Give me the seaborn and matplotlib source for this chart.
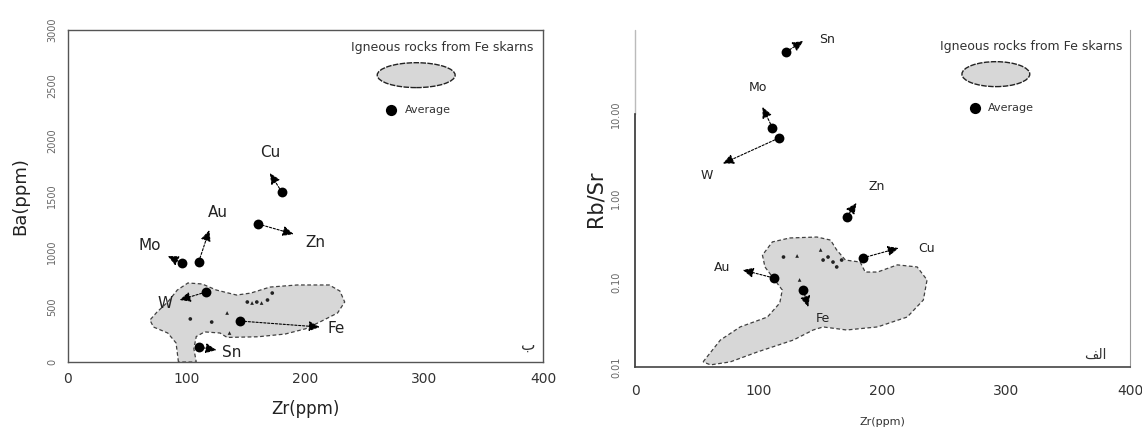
import numpy as np
import pandas as pd
import matplotlib
matplotlib.use("Agg")
import matplotlib.pyplot as plt
import seaborn as sns
from matplotlib.patches import Polygon, Ellipse

# ---------------- data ----------------
elements = ["Cu", "Zn", "Au", "Mo", "W", "Fe", "Sn"]

# Left panel: Zr (ppm) vs Ba (ppm)
ba_avg_zr = [180, 160, 110, 96, 116, 145, 110]
ba_avg_ba = [1536, 1247, 903, 894, 632, 370, 135]
ba_head_zr = [170, 190, 119, 84, 94, 212, 125]
ba_head_ba = [1707, 1156, 1192, 958, 560, 316, 108]
ba_lab_zr = [170, 208, 126, 69, 82, 226, 138]
ba_lab_ba = [1897, 1084, 1355, 1057, 533, 307, 90]

ba_samp_zr = [103, 121, 134, 151, 155, 159, 163, 168, 172, 136]
ba_samp_ba = [389, 361, 443, 542, 533, 542, 533, 560, 623, 262]
ba_samp_kind = ["o", "o", "^", "o", "^", "o", "^", "o", "o", "^"]

ba_field_zr = [93, 91, 84, 72, 69, 75, 84, 92, 101, 113, 125, 142, 154, 170, 193,
               220, 229, 233, 227, 212, 200, 183, 160, 134, 128, 115, 108, 106, 108]
ba_field_ba = [0, 172, 262, 316, 379, 452, 542, 650, 714, 705, 650, 605, 623, 677, 696,
               696, 641, 542, 443, 361, 300, 253, 228, 222, 262, 272, 230, 120, 0]

# Right panel: Zr (ppm) vs Rb/Sr
rs_avg_zr = [184, 171, 112, 111, 116, 136, 122]
rs_avg_rs = [0.197, 0.60, 0.114, 6.9, 5.2, 0.082, 54.8]
rs_head_zr = [213, 179, 87, 103, 71, 140, 136]
rs_head_rs = [0.258, 0.885, 0.142, 12.2, 2.6, 0.0515, 74]
rs_lab_zr = [236, 195, 70, 99, 58, 152, 155]
rs_lab_rs = [0.258, 1.37, 0.150, 20.5, 1.9, 0.038, 78]

rs_samp_zr = [120, 131, 150, 152, 156, 160, 163, 167, 133]
rs_samp_rs = [0.202, 0.208, 0.245, 0.186, 0.202, 0.176, 0.154, 0.186, 0.108]
rs_samp_kind = ["o", "^", "^", "o", "o", "o", "o", "o", "^"]

rs_field_zr = [55, 69, 85, 107, 117, 119, 105, 103, 111, 125, 147, 158, 163, 170, 182,
               186, 196, 212, 228, 236, 233, 220, 196, 171, 152, 144, 128, 99, 77, 61]
rs_field_rs = [0.0115, 0.0209, 0.0299, 0.0392, 0.0575, 0.082, 0.154, 0.213, 0.305, 0.340,
               0.349, 0.321, 0.245, 0.186, 0.176, 0.134, 0.134, 0.163, 0.154, 0.108,
               0.0624, 0.0392, 0.0299, 0.0275, 0.0299, 0.0275, 0.0209, 0.0151, 0.0115, 0.0106]

x_ticks = [0, 100, 200, 300, 400]
ba_ticks = [0, 500, 1000, 1500, 2000, 2500, 3000]
rs_ticks = [0.01, 0.1, 1, 10]
rs_tick_labels = ["0.01", "0.10", "1.00", "10.00"]

legend_field = "Igneous rocks from Fe skarns"
legend_avg = "Average"

# ---------------- style ----------------
sns.set_style("white")
plt.rcParams["font.family"] = ["DejaVu Sans"]

fig = plt.figure(figsize=(11.42, 4.28), dpi=100)
axL = fig.add_axes([68 / 1142, 1 - 362 / 428, 475 / 1142, 332 / 428])
axR = fig.add_axes([635 / 1142, 1 - 367 / 428, 495 / 1142, 337 / 428])

FIELD_FC = "#d7d7d7"
FIELD_EC = "#404040"
DASH = (0, (3, 2))


def draw_panel(ax, f_x, f_y, s_x, s_y, s_k, a_x, a_y, h_x, h_y, l_x, l_y, lab_size):
    ax.add_patch(Polygon(np.column_stack([f_x, f_y]), closed=True, facecolor=FIELD_FC,
                         edgecolor=FIELD_EC, linestyle=DASH, linewidth=0.9, zorder=1))
    samp = pd.DataFrame({"x": s_x, "y": s_y, "k": s_k})
    sns.scatterplot(data=samp, x="x", y="y", style="k", markers={"o": "o", "^": "^"},
                    color="#222222", s=7, linewidth=0, legend=False, ax=ax, zorder=3)
    for i, el in enumerate(elements):
        ax.annotate("", xy=(h_x[i], h_y[i]), xytext=(a_x[i], a_y[i]),
                    arrowprops=dict(arrowstyle="-|>,head_length=0.65,head_width=0.3",
                                    color="black", lw=0.8, linestyle=(0, (2, 1.5)),
                                    shrinkA=3, shrinkB=0), zorder=4)
        ax.text(l_x[i], l_y[i], el, ha="center", va="center", fontsize=lab_size,
                color="#222222", zorder=6)
    avg = pd.DataFrame({"x": a_x, "y": a_y})
    sns.scatterplot(data=avg, x="x", y="y", color="black", s=50, linewidth=0,
                    legend=False, ax=ax, zorder=5)


def draw_legend(ax, tx, ty, ex, ey, ew, eh, dx, dy, atx):
    ax.text(tx, ty, legend_field, transform=ax.transAxes, ha="right", va="center",
            fontsize=9, color="#333333")
    ax.add_patch(Ellipse((ex, ey), ew, eh, transform=ax.transAxes, facecolor=FIELD_FC,
                         edgecolor="#222222", linewidth=1.0, linestyle=(0, (4, 1))))
    ax.scatter([dx], [dy], transform=ax.transAxes, s=65, color="black", linewidth=0)
    ax.text(atx, dy, legend_avg, transform=ax.transAxes, ha="left", va="center",
            fontsize=8, color="#333333")


# ---- left panel ----
draw_panel(axL, ba_field_zr, ba_field_ba, ba_samp_zr, ba_samp_ba, ba_samp_kind,
           ba_avg_zr, ba_avg_ba, ba_head_zr, ba_head_ba, ba_lab_zr, ba_lab_ba, 11)
axL.set_xlim(0, 400)
axL.set_ylim(0, 3000)
axL.set_xticks(x_ticks)
axL.set_xticklabels([str(v) for v in x_ticks], fontsize=10, color="#333333")
axL.set_yticks(ba_ticks)
axL.set_yticklabels([str(v) for v in ba_ticks], fontsize=7, rotation=90, va="center",
                    color="#666666")
axL.tick_params(axis="both", direction="in", length=4, width=0.8, color="#555555")
axL.tick_params(axis="y", pad=8)
axL.tick_params(axis="x", pad=7)
for sp in axL.spines.values():
    sp.set_visible(True)
    sp.set_color("#555555")
    sp.set_linewidth(1.0)
axL.set_xlabel("Zr(ppm)", fontsize=12, color="#222222", labelpad=10)
axL.set_ylabel("Ba(ppm)", fontsize=13, color="#222222", labelpad=13)
draw_legend(axL, 0.979, 0.948, 0.733, 0.864, 0.164, 0.075, 0.68, 0.759, 0.709)
axL.text(0.968, 0.05, "\u0628", transform=axL.transAxes, ha="center", va="center",
         fontsize=11, color="#333333")

# ---- right panel ----
axR.set_yscale("log")
draw_panel(axR, rs_field_zr, rs_field_rs, rs_samp_zr, rs_samp_rs, rs_samp_kind,
           rs_avg_zr, rs_avg_rs, rs_head_zr, rs_head_rs, rs_lab_zr, rs_lab_rs, 9)
axR.set_xlim(0, 400)
axR.set_ylim(0.01, 100)
axR.set_xticks(x_ticks)
axR.set_xticklabels([str(v) for v in x_ticks], fontsize=10, color="#333333")
axR.set_yticks(rs_ticks)
axR.set_yticklabels(rs_tick_labels, fontsize=7, rotation=90, va="center", color="#666666")
axR.minorticks_off()
axR.tick_params(axis="both", direction="in", length=4, width=0.8, color="#555555")
axR.tick_params(axis="y", pad=10)
axR.tick_params(axis="x", pad=12)
axR.spines["top"].set_visible(False)
axR.spines["right"].set_visible(True)
axR.spines["right"].set_color("#9a9a9a")
axR.spines["bottom"].set_color("#444444")
axR.spines["bottom"].set_linewidth(1.2)
axR.spines["left"].set_color("#333333")
axR.spines["left"].set_linewidth(1.2)
axR.spines["left"].set_bounds(0.01, 10)
axR.axvline(0, ymin=0.75, ymax=1.0, color="#bbbbbb", linewidth=1.0, clip_on=False)
axR.set_xlabel("Zr(ppm)", fontsize=8, color="#333333", labelpad=14)
axR.set_ylabel("Rb/Sr", fontsize=15, color="#222222", labelpad=4)
draw_legend(axR, 0.984, 0.95, 0.729, 0.869, 0.137, 0.074, 0.687, 0.769, 0.713)
axR.text(0.929, 0.036, "\ufed2\ufedf\ufe8d", transform=axR.transAxes, ha="center",
         va="center", fontsize=10, color="#333333")

fig.savefig("out.png", dpi=100)
